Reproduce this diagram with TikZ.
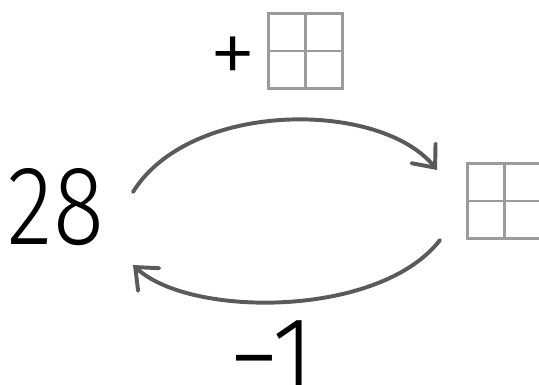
\documentclass[tikz,border=0pt]{standalone}
\usepackage{fontspec}
\newfontfamily\handfont{Fira Sans Light}
\usetikzlibrary{arrows.meta,positioning}
\definecolor{gridgray}{RGB}{155,155,155}
\definecolor{arcgray}{RGB}{90,90,90}

\begin{document}
\begin{tikzpicture}[x=0.025cm,y=-0.025cm,
      every node/.style={font=\handfont\fontsize{80}{80}\selectfont,inner sep=0pt},
      gridbox/.style={draw=gridgray,line width=2.1pt,minimum size=53pt,
        path picture={\draw[gridgray,line width=2.1pt]
          (path picture bounding box.north)--(path picture bounding box.south)
          (path picture bounding box.west)--(path picture bounding box.east);}},
      swing/.style={draw=arcgray,line width=2.8pt,line cap=round,
        -{Straight Barb[length=13pt,width=22pt,line cap=round]}}]
    \useasboundingbox (0,0) rectangle (539,385);
    % number and boxes
    \node[anchor=base] (num) at (56,245) {\scalebox{0.84}[1]{28}};
    \node[gridbox] (boxtop) at (305.5,51) {};
    \node[left=10 of boxtop,yshift=-7pt,font=\handfont\fontsize{68}{68}\selectfont] (plus) {+};
    \node[gridbox] (boxright) at (504.5,201) {};
    \node[anchor=base] (minus) at (272,396) {\scalebox{0.9}[1]{−1}};
    % arcs
    \coordinate (a1) at (133,192);
    \coordinate (a2) at (437,170);
    \coordinate (b1) at (440,240);
    \coordinate (b2) at (133,265);
    \draw[swing] (a1) .. controls (190,100) and (380,100) .. (a2);
    \draw[swing] (b1) .. controls (380,318) and (190,318) .. (b2);
  \end{tikzpicture}
\end{document}
